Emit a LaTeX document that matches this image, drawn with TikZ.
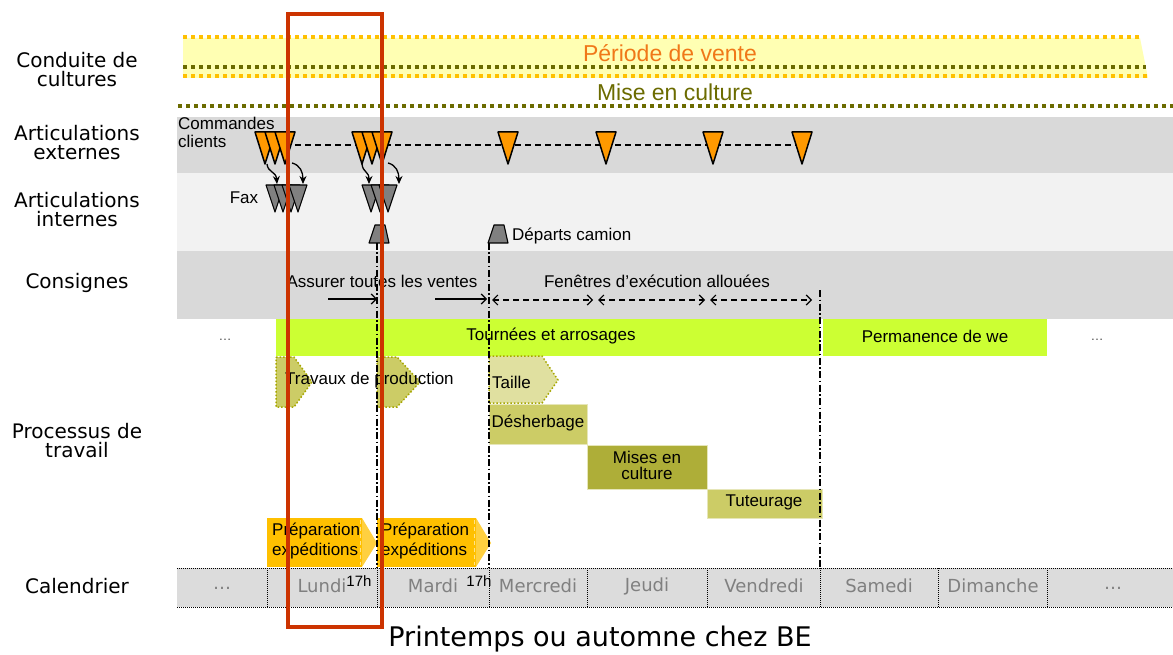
\documentclass[tikz,border=0pt]{standalone}
\usepackage{fontspec}
\setmainfont{Liberation Sans}
\newfontfamily\verd{DejaVu Sans}
\usetikzlibrary{arrows.meta}
\definecolor{orangeT}{HTML}{FF9900}
\definecolor{grayT}{HTML}{808080}
\definecolor{bandA}{HTML}{D9D9D9}
\definecolor{bandB}{HTML}{F2F2F2}
\definecolor{yellowB}{HTML}{FFFFB3}
\definecolor{dotO}{HTML}{FFC000}
\definecolor{dotOl}{HTML}{6B6B00}
\definecolor{venteC}{HTML}{F07818}
\definecolor{miseC}{HTML}{6B6B00}
\definecolor{greenB}{HTML}{CCFF33}
\definecolor{olA}{HTML}{CCCC66}
\definecolor{olB}{HTML}{AEAE38}
\definecolor{olC}{HTML}{E0E0A0}
\definecolor{olEdge}{HTML}{A6A600}
\definecolor{olLine}{HTML}{E6E6B8}
\definecolor{prep}{HTML}{FFC000}
\definecolor{prepTip}{HTML}{FFD040}
\definecolor{calB}{HTML}{DCDCDC}
\definecolor{dayC}{HTML}{808080}
\definecolor{redB}{HTML}{CC3300}
\newcommand\otri[2]{\coordinate (#1) at (#2,148);
  \filldraw[otri,shift={(#2,148)}] (-10,-16) -- (10,-16) -- (0,16) -- cycle;}
\newcommand\gtri[2]{\coordinate (#1) at (#2,198.5);
  \filldraw[gtri,shift={(#2,198.5)}] (-9,-13.5) -- (9,-13.5) -- (0,13.5) -- cycle;}
\newcommand\truck[2]{\coordinate (#1) at (#2,243);
  \filldraw[gtri,shift={(#2,243)}] (-4,-18) -- (6,-18) -- (10,0) -- (-10,0) -- cycle;}
\begin{document}
\begin{tikzpicture}[x=1pt,y=-1pt,
  lbl/.style={font=\verd\fontsize{20}{19}\selectfont, align=center, inner sep=0pt},
  txt/.style={font=\fontsize{17}{18}\selectfont, inner sep=0pt},
  day/.style={font=\verd\fontsize{18}{18}\selectfont, text=dayC, inner sep=0pt},
  otri/.style={fill=orangeT, draw=black, line width=1.5pt, line join=round},
  gtri/.style={fill=grayT, draw=black, line width=1.1pt, line join=round},
  arr/.style={-{Stealth[length=8pt,width=7pt]}, line width=1.3pt},
  barb/.style={-{Straight Barb[length=5pt,width=10pt]}, line width=1.2pt},
  dbarb/.style={{Straight Barb[length=5pt,width=10pt]}-{Straight Barb[length=5pt,width=10pt]}, line width=1.2pt, dash pattern=on 6pt off 4pt},
  dashdot/.style={line width=1.5pt, dash pattern=on 7pt off 2.5pt on 1.5pt off 2.5pt},
  dotrow/.style={line width=3.5pt, dash pattern=on 3.5pt off 4.5pt},
  caldot/.style={line width=1pt, dash pattern=on 1pt off 1pt},
  chev/.style={fill=olA, draw=olEdge, line width=1.5pt, dash pattern=on 1.5pt off 2pt},
  blk/.style={draw=olLine, line width=1pt}]
\useasboundingbox (0,0) rectangle (1173,655);
% left labels
\node[lbl] (lCond) at (77,70) {Conduite de\\cultures};
\node[lbl] (lExt) at (77,143) {Articulations\\externes};
\node[lbl] (lInt) at (77,210) {Articulations\\internes};
\node[lbl] (lCons) at (77,283) {Consignes};
\node[lbl] (lProc) at (77,441) {Processus de\\travail};
\node[lbl] (lCal) at (77,586) {Calendrier};
% top bands
\fill[yellowB] (183,38) -- (1140,38) -- (1148,78) -- (183,78) -- cycle;
\draw[dotrow, dotO] (183,37) -- (1140,37);
\draw[dotrow, dotOl] (183,67) -- (1146,67);
\draw[dotrow, dotO] (183,76) -- (1148,76);
\node[font=\fontsize{23}{23}\selectfont, text=venteC, inner sep=0pt] (vente) at (670,53) {Période de vente};
\node[font=\fontsize{23}{23}\selectfont, text=miseC, inner sep=0pt] (mise) at (675,92) {Mise en culture};
\draw[dotrow, dotOl] (178,106) -- (1173,106);
% gray bands
\fill[bandA] (177,117) rectangle (1173,173);
\fill[bandB] (177,173) rectangle (1173,251);
\fill[bandA] (177,251) rectangle (1173,319);
% commandes
\node[txt, align=left, anchor=north west] (cmd) at (178,117) {Commandes\\clients};
\coordinate (cd1) at (285,145);
\coordinate (cd2) at (800,145);
\draw[line width=1.2pt, dash pattern=on 6pt off 4pt] (cd1) -- (cd2);
\otri{oA1}{265}\otri{oA2}{275}\otri{oA3}{285}
\otri{oB1}{362}\otri{oB2}{372}\otri{oB3}{382}
\otri{oC}{508}\otri{oD}{606}\otri{oE}{713}\otri{oF}{802}
% fax
\node[txt] (fax) at (244,198) {Fax};
\gtri{gA1}{275}\gtri{gA2}{283}\gtri{gA3}{291}\gtri{gA4}{298}
\gtri{gB1}{371}\gtri{gB2}{380}\gtri{gB3}{388}
% curved arrows
\coordinate (a1s) at (267,164); \coordinate (a1e) at (277,184);
\coordinate (a2s) at (292,163); \coordinate (a2e) at (303,184);
\coordinate (a3s) at (362,164); \coordinate (a3e) at (369,184);
\coordinate (a4s) at (388,163); \coordinate (a4e) at (399,184);
\draw[arr] (a1s) .. controls (268,173) and (276,171) .. (a1e);
\draw[arr] (a2s) .. controls (300,165) and (303,172) .. (a2e);
\draw[arr] (a3s) .. controls (363,173) and (369,171) .. (a3e);
\draw[arr] (a4s) .. controls (396,165) and (399,172) .. (a4e);
% trucks
\truck{tr1}{379}
\truck{tr2}{498}
\node[txt, anchor=west] (depart) at (512,236) {Départs camion};
% dash-dot verticals
\coordinate (v1b) at (377,568);
\coordinate (v2b) at (489,568);
\coordinate (v3t) at (820,290);
\coordinate (v3b) at (820,568);
% consignes
\node[txt] (assurer) at (382,281) {Assurer toutes les ventes};
\node[txt] (fen) at (657,281) {Fenêtres d’exécution allouées};
\coordinate (c1s) at (328,299); \coordinate (c1e) at (377,299);
\coordinate (c2s) at (435,299); \coordinate (c2e) at (487,299);
\draw[barb] (c1s) -- (c1e);
\draw[barb] (c2s) -- (c2e);
\coordinate (f1s) at (492,300); \coordinate (f1e) at (593,300);
\coordinate (f2s) at (598,300); \coordinate (f2e) at (705,300);
\coordinate (f3s) at (710,300); \coordinate (f3e) at (812,300);
\draw[dbarb] (f1s) -- (f1e);
\draw[dbarb] (f2s) -- (f2e);
\draw[dbarb] (f3s) -- (f3e);
% green bars
\fill[greenB] (276,319) rectangle (820,356);
\node[txt] (tournees) at (551,336) {Tournées et arrosages};
\fill[greenB] (823,319) rectangle (1047,356);
\node[txt] (perm) at (935,336) {Permanence de we};
\node[font=\fontsize{13}{13}\selectfont, text=black!70, inner sep=0pt] (dl) at (225,340) {\dots};
\node[font=\fontsize{13}{13}\selectfont, text=black!70, inner sep=0pt] (dr) at (1097,340) {\dots};
% travaux
\filldraw[chev] (276,357) -- (294,357) -- (312,382) -- (294,407) -- (276,407) -- cycle;
\filldraw[chev] (377,357) -- (397,357) -- (420,382) -- (397,407) -- (377,407) -- cycle;
\node[txt, anchor=west] (travaux) at (285,380) {Travaux de production};
% taille etc
\filldraw[chev, fill=olC] (489,356) -- (542,356) -- (558,380) -- (542,403) -- (489,403) -- cycle;
\node[txt, anchor=west] (taille) at (492,382) {Taille};
\filldraw[blk, fill=olA] (489,404) rectangle (587,444);
\node[txt] (desh) at (538,423) {Désherbage};
\filldraw[blk, fill=olB] (587,445) rectangle (707,489);
\node[txt, align=center, font=\fontsize{17}{16}\selectfont] (mises) at (647,465) {Mises en\\culture};
\filldraw[blk, fill=olA] (707,489) rectangle (822,518);
\node[txt] (tut) at (764,502) {Tuteurage};
% preparation
\fill[prep] (267,518) -- (362,518) -- (362,567) -- (267,567) -- cycle;
\fill[prepTip] (362,518) -- (377,543) -- (362,567) -- cycle;
\draw[prepTip!60!white, line width=1pt, dash pattern=on 4pt off 3pt] (360,520) -- (360,565);
\node[txt, align=left, anchor=west, font=\fontsize{17}{20}\selectfont] (prep1) at (272,541) {Préparation\\expéditions};
\fill[prep] (377,518) -- (476,518) -- (476,567) -- (377,567) -- cycle;
\fill[prepTip] (476,518) -- (491,543) -- (476,567) -- cycle;
\draw[prepTip!60!white, line width=1pt, dash pattern=on 4pt off 3pt] (474,520) -- (474,565);
\node[txt, align=left, anchor=west, font=\fontsize{17}{20}\selectfont] (prep2) at (381,541) {Préparation\\expéditions};
% calendar
\fill[calB] (177,568) rectangle (1173,607);
\draw[caldot] (177,568) -- (1173,568);
\draw[caldot] (177,607) -- (1173,607);
\foreach \xx in {267,377,489,587,707,820,938,1047}
  \draw[caldot] (\xx,568) -- (\xx,607);
\node[day] (dA) at (222,588) {\dots};
\node[day] (dLun) at (322,586) {Lundi};
\node[day] (dMar) at (433,586) {Mardi};
\node[day] (dMer) at (538,586) {Mercredi};
\node[day] (dJeu) at (647,586) {Jeudi};
\node[day] (dVen) at (764,586) {Vendredi};
\node[day] (dSam) at (879,586) {Samedi};
\node[day] (dDim) at (993,586) {Dimanche};
\node[day] (dB) at (1113,588) {\dots};
\node[font=\fontsize{15}{15}\selectfont, inner sep=0pt] (h1) at (359,581) {17h};
\node[font=\fontsize{15}{15}\selectfont, inner sep=0pt] (h2) at (479,581) {17h};
% dash-dot lines on top
\draw[dashdot] ([xshift=-2pt]tr1) -- (v1b);
\draw[dashdot] ([xshift=-9pt]tr2) -- (v2b);
\draw[dashdot] (v3t) -- (v3b);
% title
\node[font=\verd\fontsize{27}{27}\selectfont, inner sep=0pt] (title) at (600,639) {Printemps ou automne chez BE};
% red focus frame
\draw[redB, line width=4pt] (288,14) rectangle (382,627);
\end{tikzpicture}
\end{document}
